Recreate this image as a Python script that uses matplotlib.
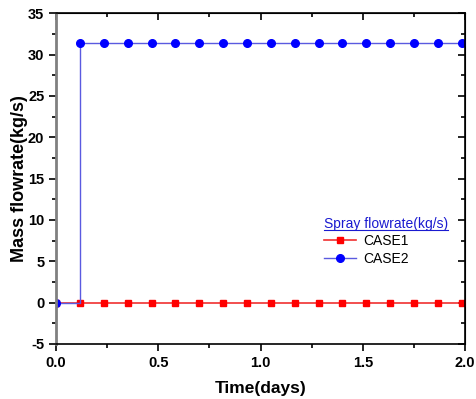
"""Recreate mass flowrate step chart."""

import matplotlib
matplotlib.use("Agg")
import matplotlib.pyplot as plt
from matplotlib.lines import Line2D
from matplotlib.ticker import MultipleLocator, FormatStrFormatter

plt.rcParams["font.family"] = ["Liberation Sans", "DejaVu Sans"]
plt.rcParams["axes.unicode_minus"] = False

# sample times (days), 17 output steps after t=0, plus the end of the run
time_days = [0.0, 0.1167, 0.2333, 0.35, 0.4667, 0.5833, 0.7, 0.8167, 0.9333,
             1.05, 1.1667, 1.2833, 1.4, 1.5167, 1.6333, 1.75, 1.8667, 1.9833, 2.0]
case1_flow = [0.0] * 19
case2_flow = [0.0] + [31.4] * 18

fig = plt.figure(figsize=(4.76, 3.99), dpi=100)
ax = fig.add_axes([0.118, 0.138, 0.859, 0.829])

marks = list(range(18))
ax.plot(time_days, case1_flow, color="#f03030", lw=1.2, marker="s", ms=5,
        mfc="#ff0000", mec="#ff0000", markevery=marks, label="CASE1")
ax.plot(time_days, case2_flow, color="#5a5ae0", lw=1.0, marker="o", ms=5.5,
        mfc="#0000ff", mec="#0000ff", markevery=marks, drawstyle="steps-post",
        label="CASE2")

ax.set_xlim(0, 2.0)
ax.set_ylim(-5, 35)
ax.xaxis.set_major_locator(MultipleLocator(0.5))
ax.xaxis.set_minor_locator(MultipleLocator(0.25))
ax.yaxis.set_major_locator(MultipleLocator(5))
ax.yaxis.set_minor_locator(MultipleLocator(2.5))
ax.xaxis.set_major_formatter(FormatStrFormatter("%.1f"))

ax.tick_params(which="both", direction="out", top=False, right=False,
               width=1.2, labelsize=10.5)
ax.tick_params(which="major", length=5)
ax.tick_params(which="minor", length=3)
for lbl in ax.get_xticklabels() + ax.get_yticklabels():
    lbl.set_fontweight("bold")

# inward ticks on top and right
sec_x = ax.secondary_xaxis("top")
sec_x.xaxis.set_major_locator(MultipleLocator(0.5))
sec_x.xaxis.set_minor_locator(MultipleLocator(0.25))
sec_x.tick_params(which="both", direction="in", labeltop=False, width=1.2)
sec_x.tick_params(which="major", length=5)
sec_x.tick_params(which="minor", length=3)
sec_y = ax.secondary_yaxis("right")
sec_y.yaxis.set_major_locator(MultipleLocator(5))
sec_y.yaxis.set_minor_locator(MultipleLocator(2.5))
sec_y.tick_params(which="both", direction="in", labelright=False, width=1.2)
sec_y.tick_params(which="major", length=5)
sec_y.tick_params(which="minor", length=3)

for s in ax.spines.values():
    s.set_linewidth(1.2)
ax.spines["left"].set_color("#808080")
ax.spines["left"].set_linewidth(2.0)

ax.set_xlabel("Time(days)", fontsize=12.5, fontweight="bold", labelpad=8)
ax.set_ylabel("Mass flowrate(kg/s)", fontsize=13, fontweight="bold", labelpad=0)

leg = ax.legend(loc="upper left", bbox_to_anchor=(0.655, 0.385), frameon=False,
                title="Spray flowrate(kg/s)", fontsize=10, title_fontsize=10,
                handlelength=2.3, handletextpad=0.5, labelspacing=0.25,
                borderaxespad=0, borderpad=0)
leg.get_title().set_color("#1a1ad0")
leg._legend_box.align = "left"

# underline legend title
fig.canvas.draw()
bb = leg.get_title().get_window_extent().transformed(fig.transFigure.inverted())
fig.add_artist(Line2D([bb.x0, bb.x1], [bb.y0 + 0.001, bb.y0 + 0.001],
                      transform=fig.transFigure, color="#1a1ad0", lw=0.8))

fig.savefig("out.png", dpi=100)
plt.close(fig)
